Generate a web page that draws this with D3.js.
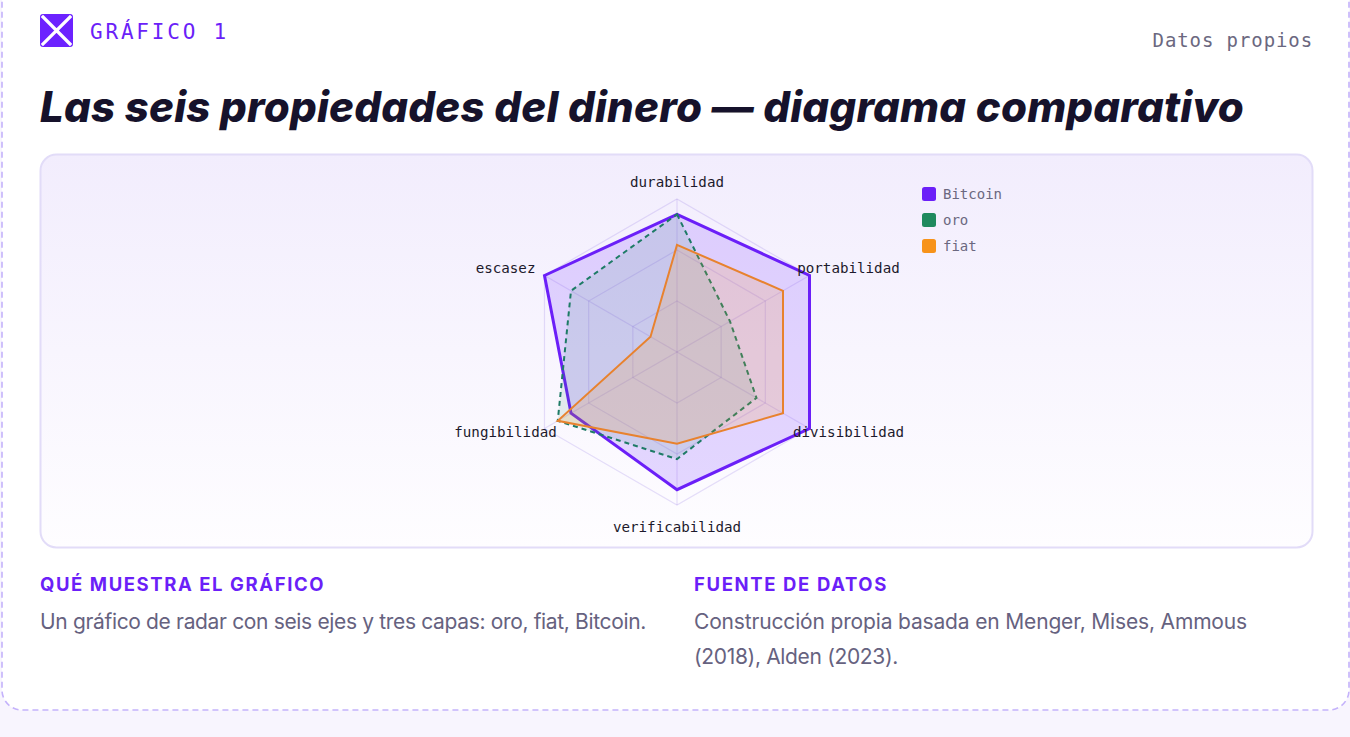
<!DOCTYPE html>
<html lang="es">
<head>
<meta charset="utf-8">
<title>Las seis propiedades del dinero</title>
<script src="https://cdn.jsdelivr.net/npm/d3@7"></script>
<style>
  html, body { margin: 0; padding: 0; background: #f8f5fe; }
  svg { display: block; }
  .mono { font-family: "DejaVu Sans Mono", "Liberation Mono", monospace; }
  .sans { font-family: Inter, "Noto Sans", sans-serif; }
</style>
</head>
<body>
<svg id="chart" width="1350" height="737"></svg>
<script>
// Data (scale 0–10)
const axes = ['durabilidad', 'portabilidad', 'divisibilidad', 'verificabilidad', 'fungibilidad', 'escasez'];
const bitcoinValues = [9, 10, 10, 9, 8, 10];
const oroValues = [9, 4, 6, 7, 9, 8];
const fiatValues = [7, 8, 8, 6, 9, 2];
const seriesNames = ['Bitcoin', 'oro', 'fiat'];
const maxValue = 10;
const gridLevels = 3;

const PURPLE = '#6b1ff8';
const GREEN = '#1f8a5e';
const ORANGE = '#f7931a';

const svg = d3.select('#chart');

// Fit text to a width by adjusting letter spacing
function fitWidth(sel, target) {
  const node = sel.node();
  const n = sel.text().length;
  const w = node.getComputedTextLength();
  sel.attr('letter-spacing', ((target - w) / n).toFixed(3));
}

// Card
svg.append('rect')
  .attr('x', 2).attr('y', -30)
  .attr('width', 1347).attr('height', 740)
  .attr('rx', 20)
  .attr('fill', '#ffffff')
  .attr('stroke', '#c4b2fb')
  .attr('stroke-width', 1.6)
  .attr('stroke-dasharray', '6 4');

// Logo
const logo = svg.append('g').attr('transform', 'translate(40,14)');
logo.append('rect').attr('width', 33).attr('height', 33).attr('rx', 3).attr('fill', '#6c22ff');
logo.append('path').attr('d', 'M3,3L30,30M30,3L3,30')
  .attr('stroke', '#ffffff').attr('stroke-width', 3.2).attr('stroke-linecap', 'square');

svg.append('text')
  .attr('class', 'mono')
  .attr('x', 90).attr('y', 39)
  .attr('font-size', 21)
  .attr('letter-spacing', 2.8)
  .attr('fill', PURPLE)
  .text('GRÁFICO 1');

svg.append('text')
  .attr('class', 'mono')
  .attr('x', 1313).attr('y', 47)
  .attr('text-anchor', 'end')
  .attr('font-size', 19)
  .attr('letter-spacing', 0.9)
  .attr('fill', '#6b6880')
  .text('Datos propios');

// Title
const title = svg.append('text')
  .attr('class', 'sans')
  .attr('x', 40).attr('y', 122)
  .attr('font-size', 42)
  .attr('font-weight', 800)
  .attr('font-style', 'italic')
  .attr('fill', '#16122b')
  .text('Las seis propiedades del dinero — diagrama comparativo');
fitWidth(title, 1204);

// Chart panel
const defs = svg.append('defs');
const grad = defs.append('linearGradient').attr('id', 'panel-bg')
  .attr('x1', 0).attr('y1', 0).attr('x2', 0).attr('y2', 1);
grad.append('stop').attr('offset', '0%').attr('stop-color', '#f2edfd');
grad.append('stop').attr('offset', '100%').attr('stop-color', '#fefdff');

svg.append('rect')
  .attr('x', 40.5).attr('y', 154.5)
  .attr('width', 1272).attr('height', 393)
  .attr('rx', 16)
  .attr('fill', 'url(#panel-bg)')
  .attr('stroke', '#e2dcf8')
  .attr('stroke-width', 2);

// Radar
const cx = 677, cy = 352, R = 153;
const r = d3.scaleLinear().domain([0, maxValue]).range([0, R]);
const angle = d3.scaleLinear().domain([0, axes.length]).range([0, 2 * Math.PI]);

const radar = svg.append('g').attr('transform', `translate(${cx},${cy})`);

// Grid rings
const ringValues = d3.range(1, gridLevels + 1).map((i) => i * maxValue / gridLevels);
const ringLine = d3.lineRadial()
  .angle((d, i) => angle(i))
  .radius((d) => r(d))
  .curve(d3.curveLinearClosed);

radar.selectAll('.ring')
  .data(ringValues)
  .join('path')
  .attr('class', 'ring')
  .attr('d', (v) => ringLine(axes.map(() => v)))
  .attr('fill', 'none')
  .attr('stroke', 'rgba(120, 90, 220, 0.18)')
  .attr('stroke-width', 1.2);

// Spokes
radar.selectAll('.spoke')
  .data(axes)
  .join('line')
  .attr('class', 'spoke')
  .attr('x1', 0).attr('y1', 0)
  .attr('x2', (d, i) => Math.sin(angle(i)) * r(maxValue))
  .attr('y2', (d, i) => -Math.cos(angle(i)) * r(maxValue))
  .attr('stroke', 'rgba(120, 90, 220, 0.18)')
  .attr('stroke-width', 1.2);

// Series layers
const series = [
  { name: seriesNames[0], values: bitcoinValues, stroke: PURPLE, fill: 'rgba(124, 58, 255, 0.19)', width: 3, dash: null },
  { name: seriesNames[1], values: oroValues, stroke: '#1e7b66', fill: 'rgba(31, 138, 94, 0.11)', width: 2, dash: '5 4' },
  { name: seriesNames[2], values: fiatValues, stroke: '#e8822e', fill: 'rgba(247, 147, 26, 0.16)', width: 2, dash: null }
];

const areaLine = d3.lineRadial()
  .angle((d, i) => angle(i))
  .radius((d) => r(d))
  .curve(d3.curveLinearClosed);

radar.selectAll('.layer')
  .data(series)
  .join('path')
  .attr('class', 'layer')
  .attr('d', (s) => areaLine(s.values))
  .attr('fill', (s) => s.fill)
  .attr('stroke', (s) => s.stroke)
  .attr('stroke-width', (s) => s.width)
  .attr('stroke-dasharray', (s) => s.dash)
  .attr('stroke-linejoin', 'miter');

// Axis labels (lower side labels sit a little higher)
radar.selectAll('.axis-label')
  .data(axes)
  .join('text')
  .attr('class', 'axis-label mono')
  .attr('x', (d, i) => Math.sin(angle(i)) * 198)
  .attr('y', (d, i) => {
    const c = Math.cos(angle(i));
    const y = -c * 172;
    if (c < 0 && c > -0.9) return y - 6;
    if (c < -0.9) return y + 3;
    return y + 1.5;
  })
  .attr('dy', '0.38em')
  .attr('text-anchor', 'middle')
  .attr('font-size', 14.2)
  .attr('fill', '#1d1a2c')
  .text((d) => d);

// Legend
const legendColors = [PURPLE, GREEN, ORANGE];
const legend = svg.append('g').attr('transform', 'translate(922,187)');
const item = legend.selectAll('.legend-item')
  .data(seriesNames)
  .join('g')
  .attr('class', 'legend-item')
  .attr('transform', (d, i) => `translate(0,${i * 26})`);
item.append('rect')
  .attr('width', 14).attr('height', 14).attr('rx', 2.5)
  .attr('fill', (d, i) => legendColors[i]);
item.append('text')
  .attr('class', 'mono')
  .attr('x', 21).attr('y', 12)
  .attr('font-size', 14)
  .attr('fill', '#6b6880')
  .text((d) => d);

// Notes below the chart
const notes = [
  { x: 40, head: 'QUÉ MUESTRA EL GRÁFICO', headW: 285, lines: ['Un gráfico de radar con seis ejes y tres capas: oro, fiat, Bitcoin.'], lineW: [606] },
  { x: 694, head: 'FUENTE DE DATOS', headW: 194, lines: ['Construcción propia basada en Menger, Mises, Ammous', '(2018), Alden (2023).'], lineW: [553, 204] }
];

notes.forEach((n) => {
  const h = svg.append('text')
    .attr('class', 'sans')
    .attr('x', n.x).attr('y', 591)
    .attr('font-size', 18.5)
    .attr('font-weight', 700)
    .attr('fill', PURPLE)
    .text(n.head);
  fitWidth(h, n.headW);
  n.lines.forEach((line, i) => {
    const t = svg.append('text')
      .attr('class', 'sans')
      .attr('x', n.x).attr('y', 629 + i * 35)
      .attr('font-size', 21)
      .attr('fill', '#66627f')
      .text(line);
    fitWidth(t, n.lineW[i]);
  });
});
</script>
</body>
</html>
